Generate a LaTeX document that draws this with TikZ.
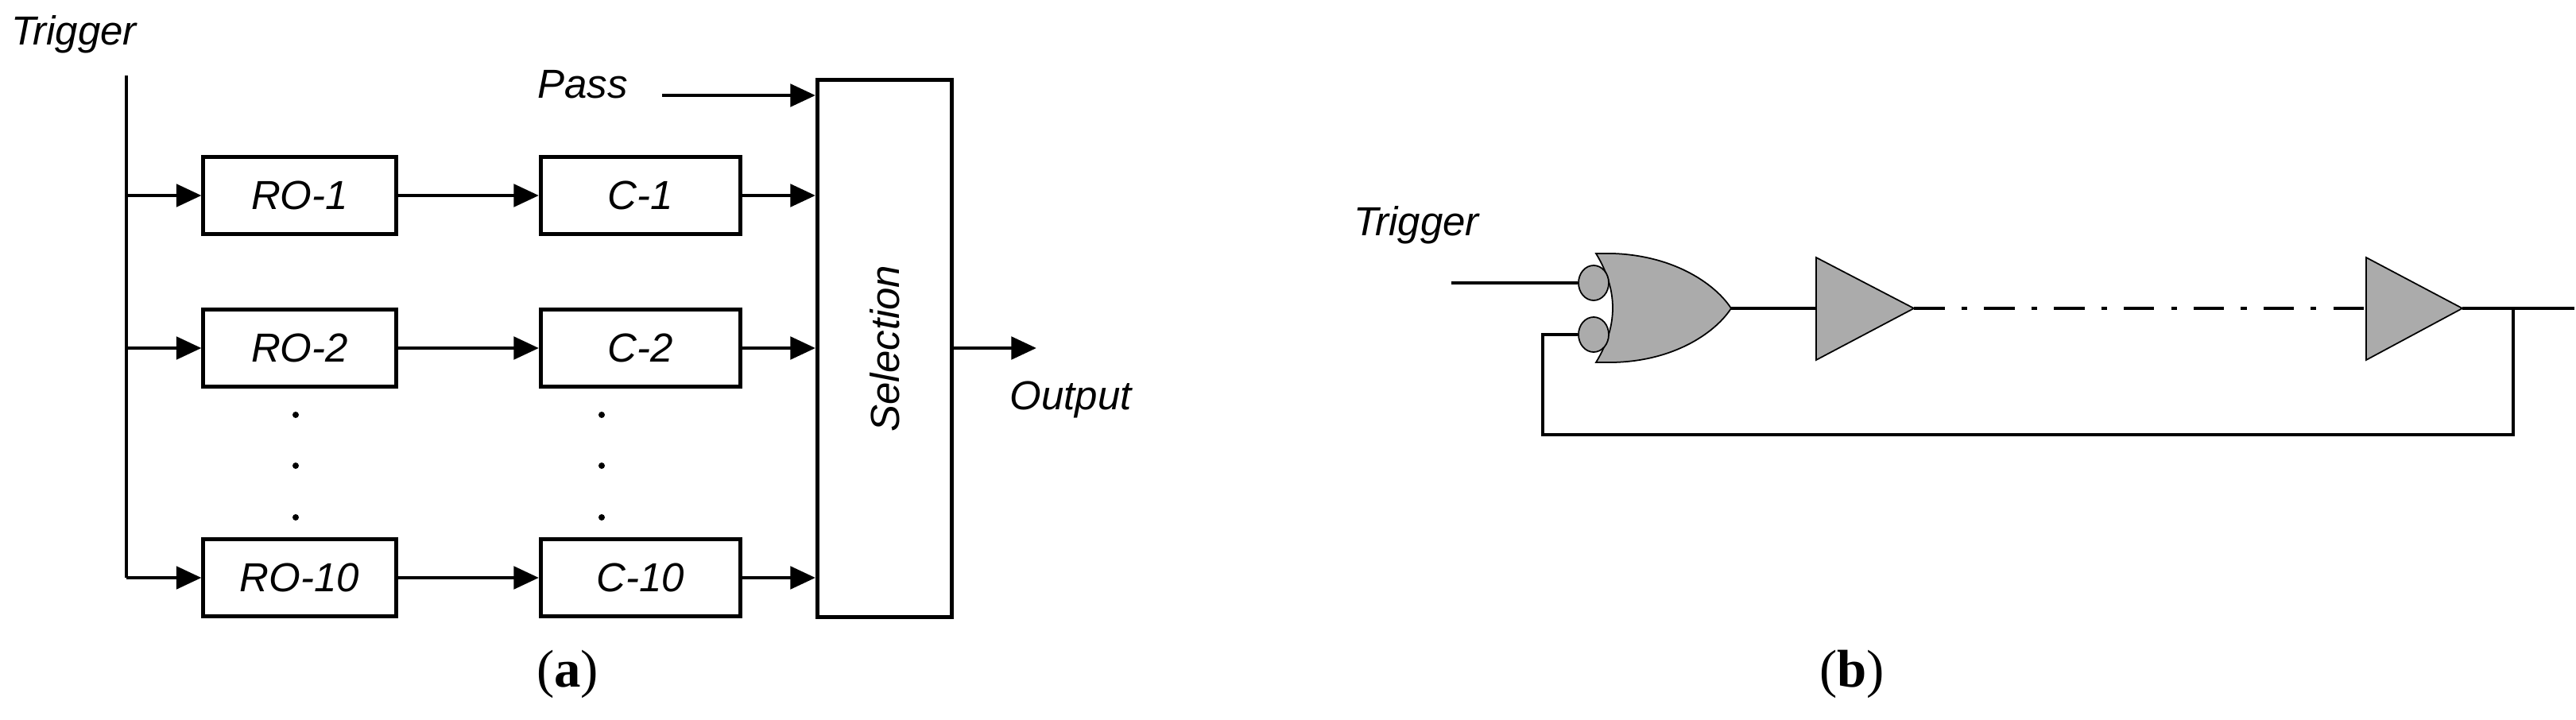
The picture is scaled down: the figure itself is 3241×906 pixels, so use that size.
\documentclass[tikz,border=0pt]{standalone}
\usepackage{fontspec}
\setmainfont{Liberation Serif}
\newfontfamily\arialf{Liberation Sans}
\usetikzlibrary{arrows.meta,shapes.geometric}
\begin{document}
\begin{tikzpicture}[x=0.01cm,y=-0.01cm,
  lbl/.style={font=\arialf\itshape\fontsize{14.5}{17}\selectfont,inner sep=0},
  box/.style={draw,line width=1.4pt,minimum width=2.42cm,minimum height=0.97cm,inner sep=0,lbl},
  cbox/.style={box,minimum width=2.51cm},
  ar/.style={line width=1.4pt,-{Triangle[length=9pt,width=8pt]}},
  w/.style={line width=1.4pt},
  g/.style={draw,line width=0.5pt,fill=black!33},
  bub/.style={g,ellipse,minimum width=0.38cm,minimum height=0.44cm,inner sep=0}]
\useasboundingbox (0,0) rectangle (3241,906);
% ---------- panel a
\node[lbl] (trig) at (93,43) {Trigger};
\coordinate (t0) at (159,95);
\node[box] (ro1) at (377,246) {RO-1};
\node[box] (ro2) at (377,438) {RO-2};
\node[box] (ro3) at (377,727) {RO-10};
\node[cbox] (c1) at (806,246) {C-1};
\node[cbox] (c2) at (806,438) {C-2};
\node[cbox] (c3) at (806,727) {C-10};
\node[draw,line width=1.4pt,minimum width=1.69cm,minimum height=6.75cm,inner sep=0] (sel) at (1113,438.5) {};
\node[lbl,rotate=90] (selt) at (sel.center) {Selection};
\coordinate (t3) at (159,727);
\draw[w] (t0) -- (t3);
\foreach \i in {1,2,3}{
  \draw[ar] (t0 |- ro\i.west) -- (ro\i.west);
  \draw[ar] (ro\i.east) -- (c\i.west);
  \draw[ar] (c\i.east) -- (sel.west |- c\i.east);
}
\node[lbl] (pass) at (733,106) {Pass};
\coordinate (p0) at (833,120);
\draw[ar] (p0) -- (sel.west |- p0);
\coordinate (o1) at (1304,438);
\draw[ar] (sel.east |- o1) -- (o1);
\node[lbl] (out) at (1347,503) {Output};
\foreach \y in {522,586,651}{
  \fill (372,\y) circle (0.04cm);
  \fill (757,\y) circle (0.04cm);
}
\node[font=\fontsize{19}{22}\selectfont,inner sep=0] (la) at (714,848) {(\textbf{a})};
% ---------- panel b
\node[lbl] (trigb) at (1782,283) {Trigger};
\coordinate (ti) at (1826,356);
\path[g] (2008,319) -- (2030,319) .. controls (2110,322) and (2160,360) .. (2178,388)
  .. controls (2160,416) and (2110,454) .. (2030,456) -- (2008,456)
  .. controls (2036,410) and (2036,365) .. (2008,319) -- cycle;
\node[bub] (bub1) at (2005,356) {};
\node[bub] (bub2) at (2005,421) {};
\draw[w] (ti) -- (bub1.west);
\coordinate (go) at (2178,388);
\path[g] (2285,324) -- (2408,388) -- (2285,453) -- cycle;
\coordinate (b1i) at (2285,388);
\coordinate (b1o) at (2408,388);
\path[g] (2977,324) -- (3098,388) -- (2977,453) -- cycle;
\coordinate (b2i) at (2977,388);
\coordinate (b2o) at (3098,388);
\coordinate (end) at (3239,388);
\coordinate (fb) at (3162,388);
\draw[w] (go) -- (b1i);
\draw[w,dash pattern=on 11pt off 6pt on 2pt off 6pt] (b1o) -- (b2i);
\draw[w] (b2o) -- (end);
\draw[line width=1pt] (fb) -- (3162,547) -- (1941,547) -- (1941,421) -- (bub2.west);
\node[font=\fontsize{19}{22}\selectfont,inner sep=0] (lb) at (2330,848) {(\textbf{b})};
\end{tikzpicture}
\end{document}
